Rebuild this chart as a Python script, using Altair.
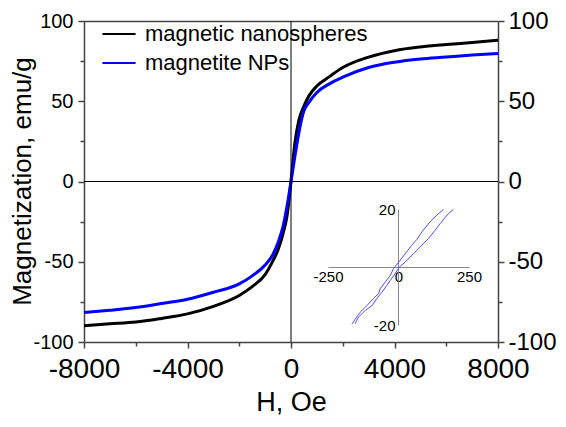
import altair as alt
import pandas as pd

# ---------------- data ----------------
H_main = [-8000, -7000, -6000, -5000, -4000, -3000, -2000, -1500, -1000, -700, -500, -300, -150,
          0, 150, 300, 500, 700, 1000, 1500, 2000, 3000, 4000, 5000, 6000, 7000, 8000]
M_nanospheres = [-89.8, -88.7, -87.6, -85.3, -82.5, -77.8, -71.0, -65.5, -58.0, -49.5, -42.5, -32.0, -21.0,
                 0.0, 24.0, 38.0, 47.0, 53.5, 59.5, 65.5, 71.0, 77.5, 81.5, 83.8, 85.3, 86.6, 88.0]
M_magnetite = [-81.6, -80.2, -78.5, -76.0, -73.4, -69.0, -63.8, -58.8, -52.0, -45.5, -38.0, -27.5, -15.0,
               0.0, 15.5, 30.0, 44.0, 49.5, 55.5, 61.0, 65.0, 71.0, 74.3, 76.3, 77.5, 78.8, 79.8]
series_names = ["magnetic nanospheres", "magnetite NPs"]
series_colors = ["#000000", "#0000ff"]

# inset (low-field loop of magnetite NPs)
H_inset_a = [160, 136, 112, 83, 65, 47, 24, 6, -8, -18, -29, -47, -65, -71, -89, -112, -136, -165]
M_inset_a = [19.9, 17.9, 15.6, 12.1, 9.5, 7.5, 4.6, 2.3, 0.6, -0.6, -2.9, -5.2, -7.5, -9.2, -10.9, -13.3, -15.6, -19.6]
H_inset_b = [195, 172, 148, 130, 106, 77, 53, 24, 3, -12, -29, -41, -59, -77, -94, -118, -142, -154]
M_inset_b = [19.9, 17.9, 15.0, 12.7, 9.8, 6.9, 4.6, 1.7, 0.0, -2.3, -4.6, -6.3, -8.7, -10.9, -13.3, -15.0, -17.3, -19.6]

x_major = [-8000, -4000, 0, 4000, 8000]
x_minor = [-6000, -2000, 2000, 6000]
y_major = [-100, -50, 0, 50, 100]
y_minor = [-75, -25, 25, 75]
inset_x_ticks = [-250, 0, 250]
inset_y_ticks = [-20, 20]

# ---------------- tables ----------------
main_df = pd.DataFrame({
    "H": H_main * 2,
    "M": M_nanospheres + M_magnetite,
    "series": [series_names[0]] * len(H_main) + [series_names[1]] * len(H_main),
    "idx": list(range(len(H_main))) * 2,
})
inset_df = pd.DataFrame({
    "H": H_inset_a + H_inset_b,
    "M": M_inset_a + M_inset_b,
    "branch": ["a"] * len(H_inset_a) + ["b"] * len(H_inset_b),
    "idx": list(range(len(H_inset_a))) + list(range(len(H_inset_b))),
})

FONT = "Liberation Sans"
AX = "#444444"
W, H = 414, 321
HYPHEN = "datum.value < 0 ? '-' + abs(datum.value) : '' + datum.value"


def xs():
    return alt.Scale(domain=[-8000, 8000], nice=False, zero=False)


def ys():
    return alt.Scale(domain=[-100, 100], nice=False, zero=False)


# main curves with bottom / left axes
lines = alt.Chart(main_df).mark_line(strokeWidth=3, interpolate="monotone").encode(
    x=alt.X("H:Q", scale=xs(), axis=alt.Axis(
        orient="bottom", values=x_major, labelExpr=HYPHEN, title="H, Oe", grid=False,
        labelFontSize=28, titleFontSize=27, titleFontWeight="normal", tickSize=6,
        labelPadding=7, titlePadding=6, labelFlush=False, labelOverlap=False,
        domainColor=AX, tickColor=AX, domainWidth=1.5, tickWidth=1.5)),
    y=alt.Y("M:Q", scale=ys(), axis=alt.Axis(
        orient="left", values=y_major, labelExpr=HYPHEN, title="Magnetization, emu/g", grid=False,
        labelFontSize=20, titleFontSize=26, titleFontWeight="normal", tickSize=6,
        labelPadding=5, titleX=-62, titleY=160, titleAngle=270, titleAlign="center",
        titleBaseline="middle", labelOverlap=False,
        domainColor=AX, tickColor=AX, domainWidth=1.5, tickWidth=1.5)),
    color=alt.Color("series:N", scale=alt.Scale(domain=series_names, range=series_colors),
                    legend=alt.Legend(orient="none", legendX=17, legendY=-5, title=None,
                                      symbolType="stroke", symbolSize=1100, symbolStrokeWidth=2,
                                      labelFontSize=22, labelOffset=8, rowPadding=-7, padding=0,
                                      labelLimit=400, labelColor="#000000")),
    detail="series:N",
    order="idx:Q",
)

# horizontal zero line + right major axis
hzero = alt.Chart().mark_rule(color="#000000", strokeWidth=1).encode(
    y=alt.YDatum(0, scale=ys(), axis=alt.Axis(
        orient="right", values=y_major, labelExpr=HYPHEN, title=None, grid=False,
        labelFontSize=24, tickSize=6, labelPadding=4, labelOverlap=False,
        domainColor=AX, tickColor=AX, domainWidth=1.5, tickWidth=1.5)),
)
# vertical zero line + top border
vzero = alt.Chart().mark_rule(color="#000000", strokeWidth=1).encode(
    x=alt.XDatum(0, scale=xs(), axis=alt.Axis(
        orient="top", labels=False, ticks=False, title=None, grid=False,
        domainColor=AX, domainWidth=1.5)),
)
# minor ticks (left + bottom)
minor1 = alt.Chart().mark_rule(opacity=0).encode(
    x=alt.XDatum(0, scale=xs(), axis=alt.Axis(
        orient="bottom", values=x_minor, labels=False, domain=False, title=None, grid=False,
        tickSize=4, tickColor=AX, tickWidth=1.5)),
    y=alt.YDatum(0, scale=ys(), axis=alt.Axis(
        orient="left", values=y_minor, labels=False, domain=False, title=None, grid=False,
        tickSize=4, tickColor=AX, tickWidth=1.5)),
)
# minor ticks (right)
minor2 = alt.Chart().mark_rule(opacity=0).encode(
    y=alt.YDatum(0, scale=ys(), axis=alt.Axis(
        orient="right", values=y_minor, labels=False, domain=False, title=None, grid=False,
        tickSize=4, tickColor=AX, tickWidth=1.5)),
)

# inset
inset = alt.Chart(inset_df).mark_line(color="#4d4dff", strokeWidth=1).encode(
    x=alt.X("H:Q", scale=alt.Scale(domain=[-250, 250], range=[244, 385], nice=False, zero=False),
            axis=alt.Axis(orient="bottom", offset=-75, values=inset_x_ticks, labelExpr=HYPHEN,
                          title=None, grid=False, labelFontSize=15, labelPadding=2, tickSize=0,
                          labelFlush=False, labelOverlap=False, domainColor="#888888",
                          domainWidth=1)),
    y=alt.Y("M:Q", scale=alt.Scale(domain=[-20, 20], range=[304, 188], nice=False, zero=False),
            axis=alt.Axis(orient="left", offset=-314, values=inset_y_ticks, labelExpr=HYPHEN,
                          title=None, grid=False, labelFontSize=15, labelPadding=3, tickSize=0,
                          labelOverlap=False, domainColor="#888888", domainWidth=1)),
    detail="branch:N",
    order="idx:Q",
)

chart = alt.layer(lines, hzero, vzero, minor1, minor2, inset).resolve_scale(
    x="independent", y="independent"
).properties(
    width=W, height=H,
    autosize=alt.AutoSizeParams(type="none"),
    padding={"left": 76, "top": 13, "right": 60, "bottom": 76},
).configure(
    font=FONT,
).configure_view(
    stroke=None,
).configure_axis(
    labelFont=FONT, titleFont=FONT, labelColor="#000000", titleColor="#000000",
).configure_legend(
    labelFont=FONT,
)

chart.save("out.html", embed_options={"renderer": "svg", "actions": False})
